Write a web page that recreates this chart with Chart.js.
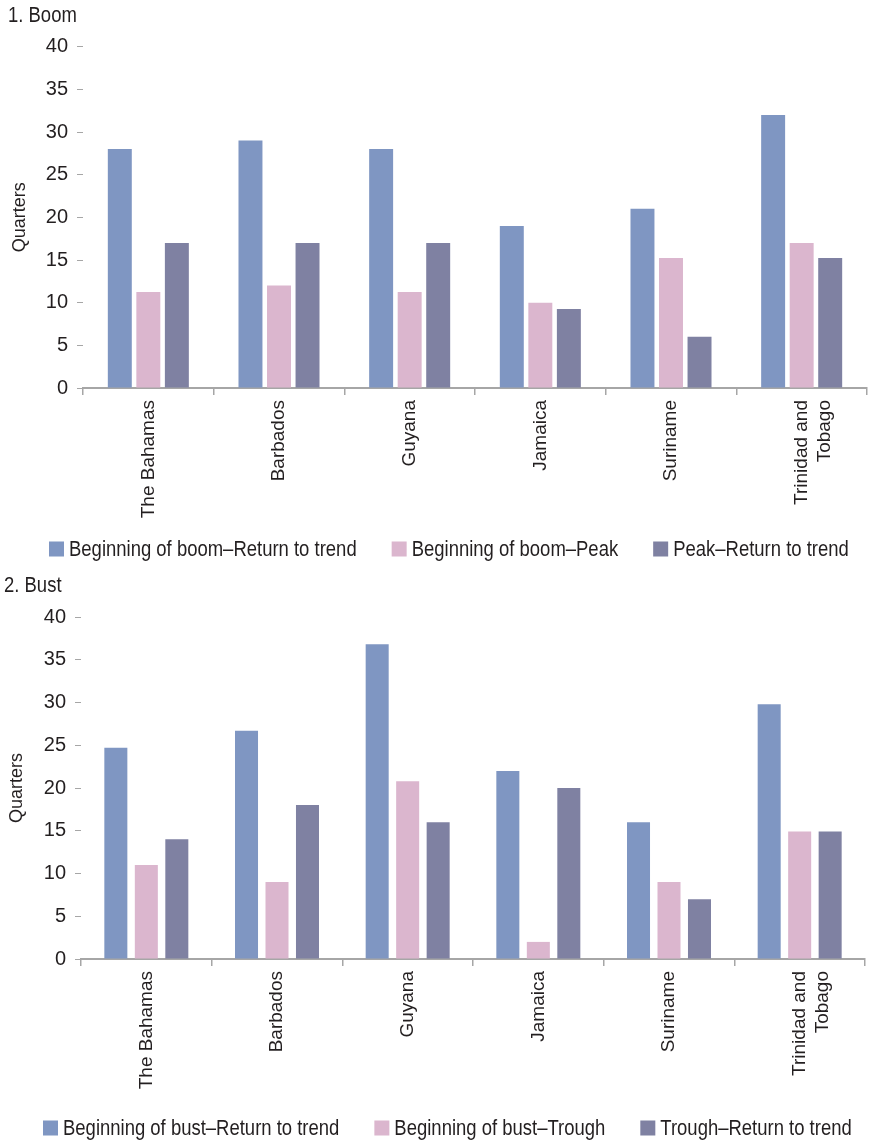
<!DOCTYPE html>
<html><head><meta charset="utf-8">
<script src="https://cdn.jsdelivr.net/npm/chart.js@4"></script>
<style>
html,body{margin:0;padding:0;background:#fff;}
#wrap{position:relative;width:869px;height:1142px;overflow:hidden;}
.c{position:absolute;left:0;width:869px;height:571px;}
</style></head><body>
<div id="wrap">
<div class="c" style="top:0"><canvas id="boom"></canvas></div>
<div class="c" style="top:571px"><canvas id="bust"></canvas></div>
</div>
<script>
// ---- data ----
const countries = ['The Bahamas', 'Barbados', 'Guyana', 'Jamaica', 'Suriname', ['Trinidad and', 'Tobago']];
const boomSeriesNames = ['Beginning of boom–Return to trend', 'Beginning of boom–Peak', 'Peak–Return to trend'];
const boomBeginToReturn = [28, 29, 28, 19, 21, 32];
const boomBeginToPeak = [11.25, 12, 11.25, 10, 15.25, 17];
const boomPeakToReturn = [17, 17, 17, 9.25, 6, 15.25];
const bustSeriesNames = ['Beginning of bust–Return to trend', 'Beginning of bust–Trough', 'Trough–Return to trend'];
const bustBeginToReturn = [24.7, 26.7, 36.8, 22, 16, 29.8];
const bustBeginToTrough = [11, 9, 20.8, 2, 9, 14.9];
const bustTroughToReturn = [14, 18, 16, 20, 7, 14.9];
const yMin = 0, yMax = 40, yStep = 5;
const seriesColors = ['#7F96C2', '#DBB6CE', '#7F81A2'];

// ---- font ----
const probe = document.createElement('canvas').getContext('2d');
probe.font = '40px monospace';
const wMono = probe.measureText('Beginning of boom').width;
probe.font = '40px "Liberation Sans Narrow", monospace';
const wNarrow = probe.measureText('Beginning of boom').width;
const hasNarrow = Math.abs(wMono - wNarrow) > 1;
const FAMILY = hasNarrow ? '"Liberation Sans Narrow", "Liberation Sans", Arial, sans-serif' : '"Liberation Sans", Arial, sans-serif';
const SX = hasNarrow ? 1.0 : 0.84;     // horizontal squeeze for legend / panel titles
const TXT = '#231F20';
Chart.defaults.font.family = FAMILY;
Chart.defaults.color = TXT;

function drawSqueezed(ctx, text, x, y) {
  ctx.save();
  ctx.translate(x, y);
  ctx.scale(SX, 1);
  ctx.fillText(text, 0, 0);
  ctx.restore();
  return ctx.measureText(text).width * SX;
}

const panelText = {
  id: 'panelText',
  afterDraw(chart, args, opts) {
    const ctx = chart.ctx;
    ctx.save();
    ctx.font = '22px ' + FAMILY;
    ctx.textBaseline = 'middle';
    ctx.textAlign = 'left';
    ctx.fillStyle = TXT;
    drawSqueezed(ctx, opts.title, opts.titleX, opts.titleY);
    let x = opts.legX;
    chart.data.datasets.forEach(ds => {
      ctx.fillStyle = ds.backgroundColor;
      ctx.fillRect(x, opts.legY - 7.5, 15, 15);
      x += 15 + opts.gap;
      ctx.fillStyle = TXT;
      x += drawSqueezed(ctx, ds.label, x, opts.legY + 1) + opts.itemGap;
    });
    ctx.restore();
  }
};

function makeChart(id, names, series, cfg) {
  return new Chart(document.getElementById(id), {
    type: 'bar',
    data: {
      labels: countries,
      datasets: series.map((d, i) => ({
        label: names[i], data: d, backgroundColor: seriesColors[i],
        categoryPercentage: cfg.cp, barPercentage: cfg.bp
      }))
    },
    options: {
      responsive: true, maintainAspectRatio: false, animation: false,
      layout: { padding: { left: cfg.left, right: cfg.right, top: cfg.top, bottom: cfg.bottom } },
      plugins: {
        legend: { display: false },
        tooltip: { enabled: false },
        title: { display: false },
        panelText: { title: cfg.title, titleX: cfg.titleX, titleY: cfg.titleY, legX: cfg.legX, legY: cfg.legY, gap: 5, itemGap: 35 }
      },
      scales: {
        x: {
          grid: { drawOnChartArea: false, drawTicks: true, tickLength: 7, color: '#A6A6A6', lineWidth: 1.5, offset: true },
          border: { display: true, color: '#A6A6A6', width: 2 },
          ticks: { minRotation: 90, maxRotation: 90, autoSkip: false, padding: 5, color: TXT, font: { size: 19 } },
          afterFit(s) { s.height = cfg.xh; }
        },
        y: {
          min: yMin, max: yMax,
          ticks: { stepSize: yStep, padding: 9, color: TXT, font: { size: 20 } },
          grid: { drawOnChartArea: false, drawTicks: true, tickLength: 6, color: '#A6A6A6', lineWidth: 1 },
          border: { display: false },
          title: { display: true, text: 'Quarters', color: TXT, font: { size: 18 }, padding: { top: cfg.ytPad, bottom: 0 } },
          afterFit(s) { s.width = cfg.yw; }
        }
      }
    },
    plugins: [panelText]
  });
}

makeChart('boom', boomSeriesNames, [boomBeginToReturn, boomBeginToPeak, boomPeakToReturn], {
  title: '1. Boom', titleX: 8, titleY: 15.5, cp: 0.655, bp: 0.84, left: 0, right: 2, top: 46.7, bottom: 53, xh: 130, yw: 83, ytPad: 9,
  legX: 49, legY: 549
});
makeChart('bust', bustSeriesNames, [bustBeginToReturn, bustBeginToTrough, bustTroughToReturn], {
  title: '2. Bust', titleX: 4, titleY: 15, cp: 0.70, bp: 0.755, left: 0, right: 4, top: 46, bottom: 53, xh: 130, yw: 81, ytPad: 6,
  legX: 43, legY: 557
});
</script>
</body></html>
